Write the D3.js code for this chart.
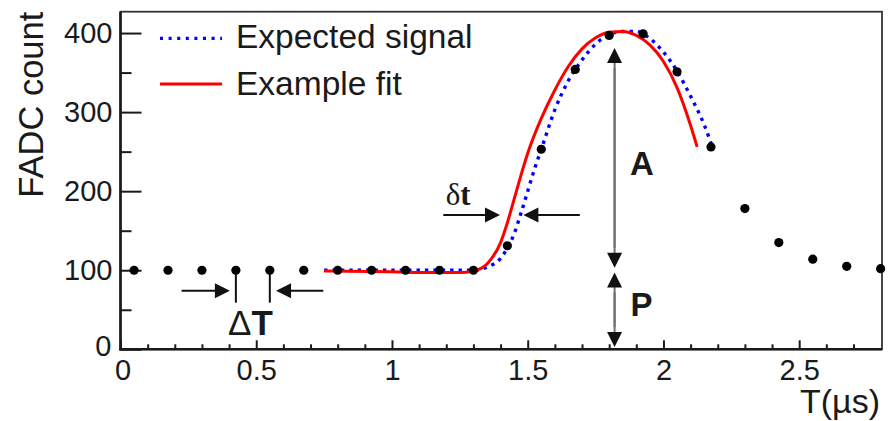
<!DOCTYPE html>
<html><head><meta charset="utf-8">
<script src="https://cdn.jsdelivr.net/npm/d3@7"></script>
<style>
html,body{margin:0;padding:0;background:#fff;}
svg{display:block;font-family:"Liberation Sans",Arial,Helvetica,sans-serif;}
</style></head><body>
<svg id="chart" width="891" height="421"></svg>
<script>
// ---- data ----
const sampleTimes  = [0.05,0.175,0.3,0.425,0.55,0.675,0.8,0.925,1.05,1.175,1.3,1.425,1.55,1.675,1.8,1.925,2.05,2.175,2.3,2.425,2.55,2.675,2.8];
const sampleCounts = [100,100,100,100,100,100,100,100,100,100,100,131,253,354,397,399,351,256,178,135,114,105,102];

const expectedT = [0.75,1.0,1.2,1.3,1.35,1.4,1.425,1.45,1.475,1.5,1.525,1.55,1.6,1.65,1.7,1.75,1.8,1.85,1.9,1.95,2.0,2.05,2.1,2.15,2.18];
const expectedV = [100,100,100,100,104,115,128,146,172,200,228,253,303,340,366,386,398,402,402,393,376,352,320,284,256];

const fitT = [0.75,1.0,1.15,1.25,1.3,1.35,1.4,1.425,1.45,1.475,1.5,1.55,1.6,1.65,1.7,1.75,1.8,1.85,1.9,1.95,2.0,2.05,2.1,2.124];
const fitV = [99,98,97,97,99,108,135,160,190,220,248,292,328,358,380,394,401,402,397,385,364,331,283,256];

const seriesNames = ["Expected signal","Example fit"];
const xTicks = [0,0.5,1,1.5,2,2.5];
const xTickLabels = ["0","0.5","1","1.5","2","2.5"];
const xMinorTicks = [0.1,0.2,0.3,0.4,0.6,0.7,0.8,0.9,1.1,1.2,1.3,1.4,1.6,1.7,1.8,1.9,2.1,2.2,2.3,2.4,2.6,2.7];
const yTicks = [0,100,200,300,400];
const yTickLabels = ["0","100","200","300","400"];
const yMinorTicks = [50,150,250,350];
const xTitle = "T(\u00B5s)";
const yTitle = "FADC count";

// annotation anchors (data units)
const annAmpT = 1.82, annAmpTop = 381, annAmpBottom = 103;
const annPedTop = 97, annPedBottom = 3;
const annALabel = [1.877, 220.5], annPLabel = [1.879, 41.5];
const annDtY = 170, annDtLeft = [1.189, 1.398], annDtRight = [1.484, 1.692];
const annDtLabel = [1.198, 182.5];
const annDTmarks = [0.425, 0.55], annDTmarkBottom = 59, annDTArrowY = 74;
const annDTLeft = [0.225, 0.403], annDTRight = [0.573, 0.747];
const annDTLabel = [0.396, 18];

// ---- drawing ----
const svg = d3.select("#chart");
const L = 120.5, R = 882, T = 11.7, B = 349.3;
const x = d3.scaleLinear().domain([0, 2.805]).range([L, R]);
const y = d3.scaleLinear().domain([0, 427]).range([B, T]);
const ink = "#1a1a1a";

// axes
const yMajor = svg.append("g").attr("transform", `translate(${L},0)`)
  .call(d3.axisLeft(y).tickValues(yTicks).tickFormat((d,i)=>yTickLabels[i])
        .tickSize(-21).tickSizeOuter(0).tickPadding(8));
yMajor.select(".domain").remove();
yMajor.selectAll("line").attr("stroke", ink).attr("stroke-width", 2);
yMajor.selectAll("text").attr("font-size", 29).attr("fill", ink)
  .attr("font-family", "'Liberation Sans',Arial,sans-serif")
  .attr("dx", d => d === 0 ? -1 : 0)
  .attr("dy", d => d === 0 ? "0.2em" : "0.32em");

const yMinor = svg.append("g").attr("transform", `translate(${L},0)`)
  .call(d3.axisLeft(y).tickValues(yMinorTicks).tickFormat("").tickSize(-11).tickSizeOuter(0));
yMinor.select(".domain").remove();
yMinor.selectAll("line").attr("stroke", ink).attr("stroke-width", 2);

const xMajor = svg.append("g").attr("transform", `translate(0,${B})`)
  .call(d3.axisBottom(x).tickValues(xTicks).tickFormat((d,i)=>xTickLabels[i])
        .tickSize(-9).tickSizeOuter(0).tickPadding(10));
xMajor.select(".domain").remove();
xMajor.selectAll("line").attr("stroke", ink).attr("stroke-width", 2);
xMajor.selectAll("text").attr("font-size", 29).attr("fill", ink)
  .attr("font-family", "'Liberation Sans',Arial,sans-serif")
  .attr("dx", d => d === 0 ? 2 : 0);

const xMinor = svg.append("g").attr("transform", `translate(0,${B})`)
  .call(d3.axisBottom(x).tickValues(xMinorTicks).tickFormat("").tickSize(-5).tickSizeOuter(0));
xMinor.select(".domain").remove();
xMinor.selectAll("line").attr("stroke", ink).attr("stroke-width", 2);

// frame
svg.append("rect").attr("x", L).attr("y", T).attr("width", R - L).attr("height", B - T)
  .attr("fill", "none").attr("stroke", "#333").attr("stroke-width", 1.8);
svg.append("line").attr("x1", L).attr("x2", L).attr("y1", T).attr("y2", B + 1.2)
  .attr("stroke", ink).attr("stroke-width", 2.6);
svg.append("line").attr("x1", L - 1.2).attr("x2", R).attr("y1", B).attr("y2", B)
  .attr("stroke", ink).attr("stroke-width", 2.6);

// titles
svg.append("text").attr("transform", `translate(43,${T}) rotate(-90)`)
  .attr("text-anchor", "end").attr("font-size", 34.5).attr("fill", ink).text(yTitle);
svg.append("text").attr("x", 880).attr("y", 413).attr("text-anchor", "end")
  .attr("font-size", 34).attr("fill", ink).text(xTitle);

// curves
const line = d3.line().x(d => x(d[0])).y(d => y(d[1])).curve(d3.curveMonotoneX);
svg.append("path").datum(d3.zip(expectedT, expectedV)).attr("d", line)
  .attr("fill", "none").attr("stroke", "#0000ff").attr("stroke-width", 3.4)
  .attr("stroke-dasharray", "3.4,5");
svg.append("path").datum(d3.zip(fitT, fitV)).attr("d", line)
  .attr("fill", "none").attr("stroke", "#ff0000").attr("stroke-width", 3);

// arrows helper
function head(g, tipX, tipY, dirX, dirY, len, half, color) {
  const bx = tipX - dirX * len, by = tipY - dirY * len;
  const px = -dirY * half, py = dirX * half;
  g.append("path").attr("d", `M${tipX},${tipY}L${bx+px},${by+py}L${bx-px},${by-py}Z`).attr("fill", color);
}
function arrow(x1, y1, x2, y2, color, lineColor, w) {
  const g = svg.append("g");
  const dx = x2 - x1, dy = y2 - y1, n = Math.hypot(dx, dy);
  const ux = dx / n, uy = dy / n;
  g.append("line").attr("x1", x1).attr("y1", y1).attr("x2", x2 - ux * 8).attr("y2", y2 - uy * 8)
    .attr("stroke", lineColor).attr("stroke-width", w);
  head(g, x2, y2, ux, uy, 15, 7.5, color);
}

// A and P arrows
const ax = x(annAmpT);
arrow(ax, y(annAmpBottom) - 20, ax, y(annAmpTop), "#111", "#6e6e6e", 2);
arrow(ax, y(annAmpTop) + 20, ax, y(annAmpBottom), "#111", "#6e6e6e", 2);
arrow(ax, y(annPedBottom) - 20, ax, y(annPedTop), "#111", "#6e6e6e", 2);
arrow(ax, y(annPedTop) + 20, ax, y(annPedBottom), "#111", "#6e6e6e", 2);
svg.append("text").attr("x", x(annALabel[0])).attr("y", y(annALabel[1]))
  .attr("font-size", 33).attr("font-weight", "bold").attr("fill", ink).text("A");
svg.append("text").attr("x", x(annPLabel[0])).attr("y", y(annPLabel[1]))
  .attr("font-size", 33).attr("font-weight", "bold").attr("fill", ink).text("P");

// delta t arrows
arrow(x(annDtLeft[0]), y(annDtY), x(annDtLeft[1]), y(annDtY), "#111", "#111", 2);
arrow(x(annDtRight[1]), y(annDtY), x(annDtRight[0]), y(annDtY), "#111", "#111", 2);
const dtText = svg.append("text").attr("x", x(annDtLabel[0])).attr("y", y(annDtLabel[1]))
  .attr("font-size", 31).attr("fill", ink).attr("font-family", "'Liberation Serif','Times New Roman',serif");
dtText.append("tspan").text("\u03B4");
dtText.append("tspan").attr("font-weight", "bold").text("t");

// Delta T markers
annDTmarks.forEach(t => {
  svg.append("line").attr("x1", x(t)).attr("x2", x(t)).attr("y1", y(100)).attr("y2", y(annDTmarkBottom))
    .attr("stroke", "#111").attr("stroke-width", 2);
});
arrow(x(annDTLeft[0]), y(annDTArrowY), x(annDTLeft[1]), y(annDTArrowY), "#111", "#111", 2);
arrow(x(annDTRight[1]), y(annDTArrowY), x(annDTRight[0]), y(annDTArrowY), "#111", "#111", 2);
const DTText = svg.append("text").attr("x", x(annDTLabel[0])).attr("y", y(annDTLabel[1]))
  .attr("font-size", 35).attr("fill", ink);
DTText.append("tspan").text("\u0394");
DTText.append("tspan").attr("font-weight", "bold").text("T");

// samples
svg.append("g").selectAll("circle").data(d3.zip(sampleTimes, sampleCounts)).join("circle")
  .attr("cx", d => x(d[0])).attr("cy", d => y(d[1])).attr("r", 4.6).attr("fill", "#000");

// legend
const leg = svg.append("g");
leg.append("line").attr("x1", 160).attr("x2", 222).attr("y1", 38.3).attr("y2", 38.3)
  .attr("stroke", "#0000ff").attr("stroke-width", 3.2).attr("stroke-dasharray", "3,5.6");
leg.append("line").attr("x1", 160).attr("x2", 222).attr("y1", 84).attr("y2", 84)
  .attr("stroke", "#ff0000").attr("stroke-width", 3);
leg.append("text").attr("x", 236).attr("y", 48.3).attr("font-size", 33.5).attr("fill", ink).text(seriesNames[0]);
leg.append("text").attr("x", 236).attr("y", 95).attr("font-size", 33.5).attr("fill", ink).text(seriesNames[1]);
</script>
</body></html>
